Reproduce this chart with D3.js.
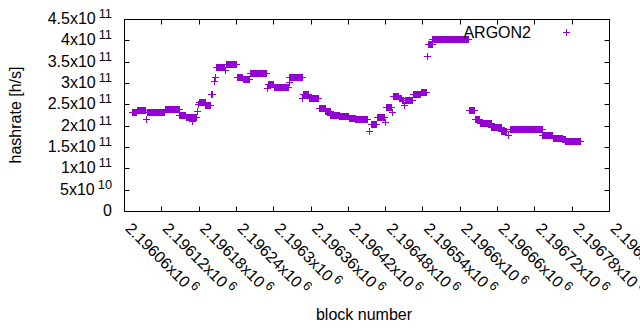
<!DOCTYPE html>
<html>
<head>
<meta charset="utf-8">
<script src="https://cdn.jsdelivr.net/npm/d3@7"></script>
<style>
body { margin: 0; background: #fff; }
text { font-family: "Liberation Sans", Arial, sans-serif; fill: #000; }
</style>
</head>
<body>
<svg width="640" height="330"></svg>
<script>
// hashrate per block, stored as runs of equal values (first block, last block, h/s)
var runStart = [2196073, 2196081, 2196095, 2196097, 2196126, 2196149, 2196159, 2196170, 2196177, 2196179,
                2196180, 2196191, 2196200, 2196205, 2196207, 2196208, 2196222, 2196224, 2196241, 2196251,
                2196262, 2196290, 2196291, 2196301, 2196325, 2196326, 2196347, 2196348, 2196357, 2196373,
                2196384, 2196392, 2196406, 2196422, 2196432, 2196454, 2196457, 2196467, 2196480, 2196482,
                2196491, 2196493, 2196502, 2196507, 2196510, 2196512, 2196524, 2196538, 2196547, 2196549,
                2196556, 2196615, 2196624, 2196632, 2196651, 2196667, 2196677, 2196681, 2196733, 2196750,
                2196765, 2196770];
var runEnd   = [2196080, 2196093, 2196095, 2196125, 2196148, 2196158, 2196175, 2196170, 2196177, 2196179,
                2196190, 2196199, 2196201, 2196205, 2196207, 2196221, 2196222, 2196240, 2196250, 2196261,
                2196289, 2196290, 2196300, 2196324, 2196325, 2196346, 2196347, 2196356, 2196372, 2196383,
                2196391, 2196405, 2196421, 2196431, 2196451, 2196454, 2196466, 2196478, 2196480, 2196490,
                2196491, 2196501, 2196506, 2196509, 2196510, 2196523, 2196536, 2196546, 2196547, 2196555,
                2196614, 2196623, 2196631, 2196650, 2196666, 2196675, 2196677, 2196732, 2196749, 2196764,
                2196769, 2196794];
var runRate  = [2.33e11, 2.37e11, 2.16e11, 2.33e11, 2.39e11, 2.26e11, 2.21e11, 2.11e11, 2.34e11, 2.50e11,
                2.56e11, 2.48e11, 2.74e11, 3.05e11, 3.15e11, 3.38e11, 3.30e11, 3.44e11, 3.13e11, 3.09e11,
                3.23e11, 2.88e11, 2.97e11, 2.90e11, 3.03e11, 3.13e11, 2.65e11, 2.74e11, 2.64e11, 2.41e11,
                2.34e11, 2.25e11, 2.23e11, 2.17e11, 2.15e11, 1.88e11, 2.04e11, 2.21e11, 2.09e11, 2.43e11,
                2.33e11, 2.70e11, 2.64e11, 2.59e11, 2.48e11, 2.60e11, 2.74e11, 2.80e11, 3.64e11, 3.91e11,
                4.02e11, 2.36e11, 2.15e11, 2.06e11, 1.96e11, 1.88e11, 1.78e11, 1.92e11, 1.77e11, 1.72e11,
                1.68e11, 1.63e11];

var xTicks = [2196060, 2196120, 2196180, 2196240, 2196300, 2196360, 2196420,
              2196480, 2196540, 2196600, 2196660, 2196720, 2196780, 2196840];
var xTickLabels = ["2.19606", "2.19612", "2.19618", "2.19624", "2.1963", "2.19636", "2.19642",
                   "2.19648", "2.19654", "2.1966", "2.19666", "2.19672", "2.19678", "2.19684"];
var xTickExp = [6, 6, 6, 6, 6, 6, 6, 6, 6, 6, 6, 6, 6, 6];

var yTicks = [0, 0.5e11, 1e11, 1.5e11, 2e11, 2.5e11, 3e11, 3.5e11, 4e11, 4.5e11];
var yTickLabels = ["0", "5", "1", "1.5", "2", "2.5", "3", "3.5", "4", "4.5"];
var yTickExp = [null, 10, 11, 11, 11, 11, 11, 11, 11, 11];

var seriesName = "ARGON2";
var color = "#9400d3";

svg = d3.select("svg");
left = 124; right = 609; top_ = 19; bottom = 211;

x = d3.scaleLinear().domain([2196060, 2196840]).range([left, right]);
y = d3.scaleLinear().domain([0, 4.5e11]).range([bottom, top_]);

function px(v) { return Math.round(v) + 0.5; }
function cross(cx, cy) {
	return "M" + (cx - 3.5) + "," + cy + "h7M" + cx + "," + (cy - 3.5) + "v7";
}

// expand runs to one point per block
points = [];
runStart.forEach(function(s, i) {
	for (var b = s; b <= runEnd[i]; b++) points.push({block: b, rate: runRate[i]});
});

// frame
svg.append("rect")
	.attr("x", left + 0.5).attr("y", top_ + 0.5)
	.attr("width", right - left).attr("height", bottom - top_)
	.attr("fill", "none").attr("stroke", "#000").attr("stroke-width", 1);

// y ticks + labels
yTicks.forEach(function(t, i) {
	var ty = px(y(t));
	svg.append("path").attr("d", "M" + (left + 0.5) + "," + ty + "h5M" + (right + 0.5) + "," + ty + "h-5")
		.attr("stroke", "#000");
	var txt = svg.append("text").attr("x", 112).attr("y", y(t) + 5)
		.attr("text-anchor", "end").attr("font-size", 16);
	if (yTickExp[i] === null) {
		txt.text(yTickLabels[i]);
	} else {
		txt.append("tspan").text(yTickLabels[i] + "x10");
		txt.append("tspan").attr("dx", 3).attr("dy", -6).attr("font-size", 12.8).text(yTickExp[i]);
	}
});

// x ticks + labels
xTicks.forEach(function(t, i) {
	var tx = px(x(t));
	svg.append("path").attr("d", "M" + tx + "," + (bottom + 0.5) + "v-5M" + tx + "," + (top_ + 0.5) + "v5")
		.attr("stroke", "#000");
	var txt = svg.append("text")
		.attr("transform", "translate(" + [x(t) + 0.5, bottom + 18.5] + ") rotate(45)")
		.attr("font-size", 16);
	txt.append("tspan").text(xTickLabels[i] + "x10");
	txt.append("tspan").attr("dx", 3).attr("dy", -6).attr("font-size", 12.8).text(xTickExp[i]);
});

// axis titles
svg.append("text").attr("x", 364).attr("y", 320).attr("text-anchor", "middle")
	.attr("font-size", 16).text("block number");
svg.append("text").attr("transform", "translate(21,115) rotate(-90)").attr("text-anchor", "middle")
	.attr("font-size", 16).text("hashrate [h/s]");

// points
svg.append("g").selectAll("path").data(points).enter().append("path")
	.attr("d", function(d) { return cross(px(x(d.block)), px(y(d.rate))); })
	.attr("stroke", color).attr("stroke-width", 1).attr("fill", "none");

// legend
svg.append("text").attr("x", 531).attr("y", 37.5).attr("text-anchor", "end")
	.attr("font-size", 16).text(seriesName);
svg.append("path").attr("d", cross(566.5, 32.5)).attr("stroke", color).attr("fill", "none");
</script>
</body>
</html>
